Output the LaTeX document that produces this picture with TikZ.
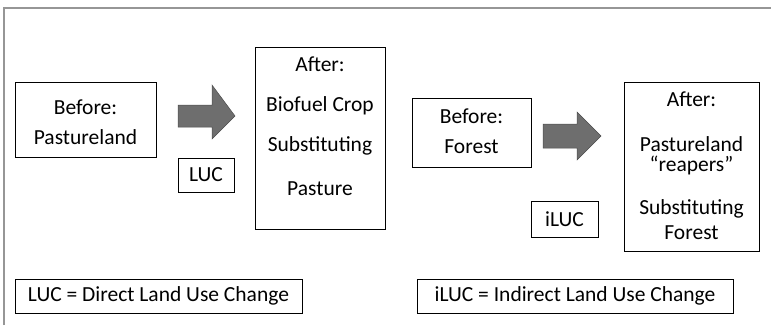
\documentclass[tikz,border=0pt]{standalone}
\usepackage{fontspec}
\setmainfont{Carlito}
\usetikzlibrary{positioning}

\definecolor{arrowgray}{RGB}{110,110,110}
\definecolor{framegray}{RGB}{150,150,150}

\begin{document}
\begin{tikzpicture}
	[
	x = 1pt, y = -1pt,
	box/.style = {draw, line width=0.9pt, inner sep=0pt},
	txt/.style = {inner sep=0pt, font=\fontsize{21.5}{24}\selectfont},
	fat/.style = {fill=arrowgray, draw=black!70, line width=0.5pt}
	]
		\useasboundingbox (0,0) rectangle (771,325);
		\draw[framegray, line width=1.6pt] (4,325) |- (771,8);

		% direct change
		\node[box, minimum width=141, minimum height=75] (before1) at (85.5,119.5) {};
		\node[txt] (b1a) at (85.5,107) {Before:};
		\node[txt] (b1b) at (85.5,137) {Pastureland};

		\fill[fat] (178,105) -- (212,105) -- (212,85) -- (235,116) -- (212,139) -- (212,127) -- (178,127) -- cycle;
		\node[box, minimum width=56, minimum height=34] (luc) at (206,175) {};
		\node[txt] at (luc) {LUC};

		\node[box, minimum width=130, minimum height=182] (after1) at (320,138) {};
		\node[txt] (a1a) at (320,64) {After:};
		\node[txt] (a1b) at (320,106) {Biofuel Crop};
		\node[txt] (a1c) at (320,146) {Substituting};
		\node[txt] (a1d) at (320,189) {Pasture};

		% indirect change
		\node[box, minimum width=119, minimum height=69] (before2) at (471.5,132.5) {};
		\node[txt] (b2a) at (471.5,116) {Before:};
		\node[txt] (b2b) at (471.5,147) {Forest};

		\fill[fat] (543,124) -- (577,124) -- (577,112) -- (601,136) -- (577,160) -- (577,148) -- (543,148) -- cycle;
		\node[box, minimum width=67, minimum height=36] (iluc) at (564.5,219) {};
		\node[txt] at (iluc) {iLUC};

		\node[box, minimum width=135, minimum height=169] (after2) at (691.5,166.5) {};
		\node[txt] (a2a) at (691.5,99) {After:};
		\node[txt, align=center, font=\fontsize{21.5}{20}\selectfont] (a2b) at (691.5,156) {Pastureland\\``reapers''};
		\node[txt, align=center, font=\fontsize{21.5}{25}\selectfont] (a2c) at (691.5,219.5) {Substituting\\Forest};

		% legend
		\node[box, minimum width=287, minimum height=34] (leg1) at (158.5,296) {};
		\node[txt] at (leg1) {LUC = Direct Land Use Change};
		\node[box, minimum width=316, minimum height=34] (leg2) at (575,296) {};
		\node[txt] at (leg2) {iLUC = Indirect Land Use Change};
	\end{tikzpicture}
\end{document}
